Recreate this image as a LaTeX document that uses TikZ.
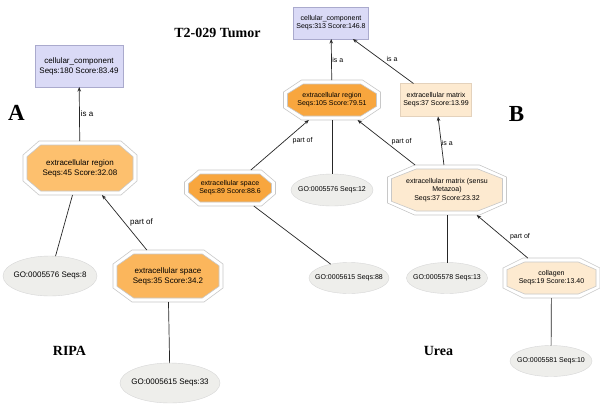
\documentclass[tikz,border=0pt]{standalone}
\usepackage{fontspec}
\setmainfont{Liberation Sans}
\newfontfamily\titlefont{Liberation Serif}
\usetikzlibrary{shapes.geometric,calc,arrows.meta,backgrounds}

\definecolor{ccfill}{RGB}{218,218,246}
\definecolor{ccline}{RGB}{170,170,205}
\definecolor{orA}{RGB}{253,192,110}
\definecolor{orAs}{RGB}{251,182,92}
\definecolor{orB}{RGB}{248,166,62}
\definecolor{peach}{RGB}{253,234,208}
\definecolor{peachline}{RGB}{228,210,188}
\definecolor{gofill}{RGB}{238,238,235}
\definecolor{goline}{RGB}{215,215,215}
\definecolor{octline}{RGB}{200,200,200}

\tikzset{
  fa/.style={font=\fontsize{8}{10}\selectfont},
  fb/.style={font=\fontsize{7}{8.3}\selectfont},
  termbox/.style={rectangle, draw=ccline, fill=ccfill, inner sep=0pt, outer sep=0pt, align=center},
  peachbox/.style={rectangle, draw=peachline, fill=peach, inner sep=0pt, outer sep=0pt, align=center},
  octnode/.style={rectangle, inner sep=0pt, outer sep=0pt, align=center},
  gonode/.style={ellipse, draw=goline, fill=gofill, inner sep=0pt, outer sep=0pt},
  rel/.style={draw=black!85, line width=0.7pt, -{Stealth[length=4.5pt,width=3.5pt]}},
  link/.style={draw=black!85, line width=0.7pt},
  rellabel/.style={inner sep=0pt, anchor=west, midway, text=black},
  octouter/.style={draw=octline, fill=white, line width=0.6pt},
  octinner/.style={draw=octline, line width=0.6pt},
  paneltitle/.style={font=\titlefont\bfseries\fontsize{14}{16}\selectfont, anchor=base, inner sep=0pt},
  panelletter/.style={font=\titlefont\bfseries\fontsize{23}{26}\selectfont, anchor=base, inner sep=0pt},
}

\newcommand\octshape[4]{%
  \path[octouter] ($(#1.north west)+(#2,0)$) -- ($(#1.north east)+(-#2,0)$) -- ($(#1.north east)+(0,#3)$) -- ($(#1.south east)+(0,-#3)$) -- ($(#1.south east)+(-#2,0)$) -- ($(#1.south west)+(#2,0)$) -- ($(#1.south west)+(0,-#3)$) -- ($(#1.north west)+(0,#3)$) -- cycle;
  \path[octinner,fill=#4] ($(#1.north west)+({#2+1.7},4)$) -- ($(#1.north east)+({-#2-1.7},4)$) -- ($(#1.north east)+(-4,{#3+1.7})$) -- ($(#1.south east)+(-4,{-#3-1.7})$) -- ($(#1.south east)+({-#2-1.7},-4)$) -- ($(#1.south west)+({#2+1.7},-4)$) -- ($(#1.south west)+(4,{-#3-1.7})$) -- ($(#1.north west)+(4,{#3+1.7})$) -- cycle;
}

\begin{document}
\begin{tikzpicture}[x=1pt,y=-1pt]
\useasboundingbox (0,0) rectangle (600,413);

% ---------- Panel A ----------
\node[termbox, fa, minimum width=88pt, minimum height=42pt] (ccA) at (79,66) {cellular\_component\\Seqs:180 Score:83.49};
\node[octnode, fa, minimum width=114pt, minimum height=54pt] (erA) at (80,168) {extracellular region\\Seqs:45 Score:32.08};
\node[gonode, fa, minimum width=94pt, minimum height=40pt] (goA1) at (50,276) {\makebox[0pt]{GO:0005576 Seqs:8}};
\node[octnode, fa, minimum width=110pt, minimum height=52pt] (esA) at (168,276) {extracellular space\\Seqs:35 Score:34.2};
\node[gonode, fa, minimum width=100pt, minimum height=40pt] (goA2) at (170,383) {\makebox[0pt]{GO:0005615 Seqs:33}};

\node[panelletter] (letA) at (16.5,120) {A};
\node[paneltitle] (ripa) at (69.5,355) {RIPA};

% ---------- Panel B ----------
\node[termbox, fb, minimum width=75pt, minimum height=32pt] (ccB) at (331,23) {cellular\_component\\Seqs:313 Score:146.8};
\node[octnode, fb, minimum width=97pt, minimum height=40pt] (erB) at (332,100) {extracellular region\\Seqs:105 Score:79.51};
\node[peachbox, fb, minimum width=71pt, minimum height=33pt] (ecmX) at (436,100) {extracellular matrix\\Seqs:37 Score:13.99};
\node[octnode, fb, minimum width=91pt, minimum height=36pt] (esB) at (230,188) {extracellular space\\Seqs:89 Score:88.6};
\node[gonode, fb, minimum width=82pt, minimum height=32pt] (goB1) at (332,190) {\makebox[0pt]{GO:0005576 Seqs:12}};
\node[octnode, fb, minimum width=119pt, minimum height=50pt] (ecmS) at (447,190) {extracellular matrix (sensu\\Metazoa)\\Seqs:37 Score:23.32};
\node[gonode, fb, minimum width=80pt, minimum height=31pt] (goB2) at (349,278) {\makebox[0pt]{GO:0005615 Seqs:88}};
\node[gonode, fb, minimum width=81pt, minimum height=31pt] (goB3) at (447,278) {\makebox[0pt]{GO:0005578 Seqs:13}};
\node[octnode, fb, minimum width=97pt, minimum height=40pt] (col) at (551.5,278) {collagen\\Seqs:19 Score:13.40};
\node[gonode, fb, minimum width=82pt, minimum height=31pt] (goB4) at (551,361) {\makebox[0pt]{GO:0005581 Seqs:10}};

\node[paneltitle] (tumor) at (217.5,37) {T2-029 Tumor};
\node[panelletter] (letB) at (516.5,121) {B};
\node[paneltitle] (urea) at (438.5,355.5) {Urea};

% ---------- background and octagon outlines ----------
\begin{pgfonlayer}{background}
\fill[white] (0,0) rectangle (600,413);
\octshape{erA}{16}{14}{orA}
\octshape{esA}{19}{14}{orAs}
\octshape{erB}{18}{12}{orB}
\octshape{esB}{14}{12}{orB}
\octshape{ecmS}{27}{12}{peach}
\octshape{col}{20}{10}{peach}
\end{pgfonlayer}

% ---------- connectors A ----------
\draw[rel] (erA) -- node[rellabel, fa, xshift=1pt] {is a} (ccA);
\draw[link] (goA1) -- (erA);
\draw[rel] (esA) -- node[rellabel, fa, xshift=5.5pt] {part of} (erA);
\draw[link] (esA) -- (goA2);

% ---------- connectors B ----------
\draw[rel] (erB) -- node[rellabel, fb, xshift=0.5pt] {is a} (ccB);
\draw[rel] (ecmX) -- node[rellabel, fb, xshift=3pt, yshift=2.5pt] {is a} (ccB);
\draw[rel] (esB) -- node[rellabel, fb, xshift=12.5pt, yshift=4pt] {part of} (erB);
\draw[rel] (ecmS) -- node[rellabel, fb, xshift=5pt, yshift=1pt] {part of} (erB);
\draw[rel] (ecmS) -- node[rellabel, fb, xshift=0.5pt, yshift=-2pt] {is a} (ecmX);
\draw[rel] (col) -- node[rellabel, fb, xshift=7.5pt] {part of} (ecmS);
\draw[link] (erB) -- (goB1);
\draw[link] (esB) -- (goB2);
\draw[link] (ecmS) -- (goB3);
\draw[link] (col) -- (goB4);
\end{tikzpicture}
\end{document}
